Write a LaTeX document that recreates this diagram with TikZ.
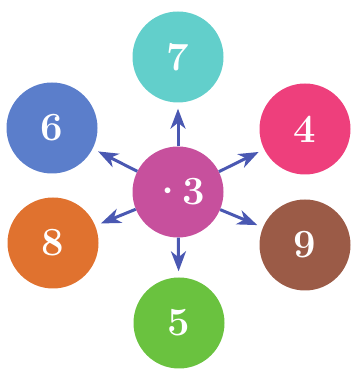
\documentclass[tikz,border=0pt]{standalone}
\usepackage{xcolor}
\usepackage{tikz}
\usetikzlibrary{arrows.meta}

\definecolor{cteal}{HTML}{62CFCB}
\definecolor{cblue}{HTML}{5B7ECB}
\definecolor{cpink}{HTML}{EE3F7C}
\definecolor{cmagenta}{HTML}{C7509D}
\definecolor{corange}{HTML}{E0722F}
\definecolor{cbrown}{HTML}{9B5B47}
\definecolor{cgreen}{HTML}{6AC23F}
\definecolor{carrow}{HTML}{4A58B2}

\begin{document}
\begin{tikzpicture}[
  x=1pt, y=1pt,
  disc/.style={circle, minimum size=91pt, inner sep=0pt, text=white,
    font=\fontsize{40pt}{40pt}\selectfont\bfseries},
  arrow/.style={-{Stealth[length=20pt,width=15pt,inset=6pt]}, carrow,
    line width=3pt, shorten <=0pt, shorten >=6pt}
]
  \useasboundingbox (0,0) rectangle (351,369);

  \node[disc, fill=cmagenta] (three) at (178,177) {\textperiodcentered\kern-3pt 3};
  \node[disc, fill=cteal] (seven) at (178,312) {7};
  \node[disc, fill=cblue] (six) at (52,241) {6};
  \node[disc, fill=cpink] (four) at (305,240) {4};
  \node[disc, fill=corange] (eight) at (53,126) {8};
  \node[disc, fill=cbrown] (nine) at (305,124) {9};
  \node[disc, fill=cgreen] (five) at (179,46) {5};

  \draw[arrow] (three) -- (seven);
  \draw[arrow] (three) -- (six);
  \draw[arrow] (three) -- (four);
  \draw[arrow] (three) -- (eight);
  \draw[arrow] (three) -- (nine);
  \draw[arrow] (three) -- (five);
\end{tikzpicture}
\end{document}
